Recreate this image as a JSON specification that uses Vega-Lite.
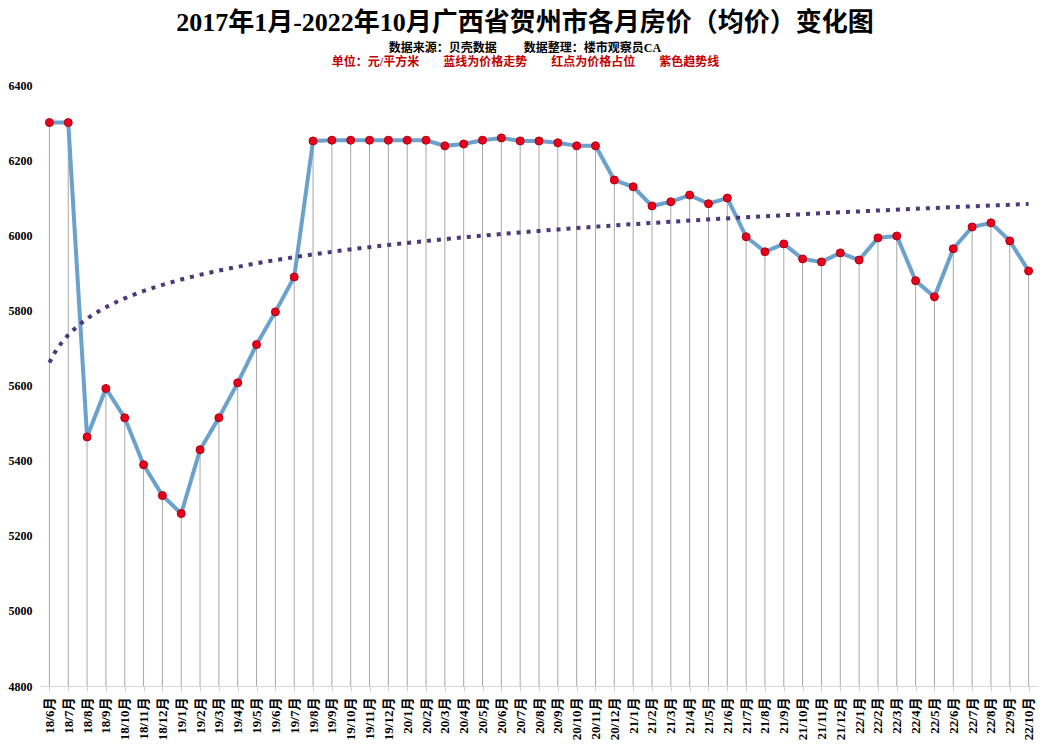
{
  "$schema": "https://vega.github.io/schema/vega-lite/v6.json",
  "width": 998,
  "height": 601,
  "padding": {"left": 8, "top": 10, "right": 8, "bottom": 5},
  "background": "white",
  "title": {
    "text": "2017年1月-2022年10月广西省贺州市各月房价（均价）变化图",
    "subtitle": "数据来源：贝壳数据　　 数据整理：楼市观察员CA",
    "font": "Liberation Serif, Noto Sans CJK SC",
    "fontSize": 26,
    "fontWeight": "bold",
    "color": "black",
    "subtitleFont": "Liberation Serif, Noto Sans CJK SC",
    "subtitleFontSize": 12,
    "subtitleFontWeight": "bold",
    "subtitleColor": "black",
    "subtitlePadding": 7,
    "anchor": "middle",
    "dx": -14,
    "offset": 1
  },
  "data": {
    "values": [
      {"i": 1, "m": "18/6月", "p": 6300},
      {"i": 2, "m": "18/7月", "p": 6300},
      {"i": 3, "m": "18/8月", "p": 5463},
      {"i": 4, "m": "18/9月", "p": 5592},
      {"i": 5, "m": "18/10月", "p": 5514},
      {"i": 6, "m": "18/11月", "p": 5389},
      {"i": 7, "m": "18/12月", "p": 5307},
      {"i": 8, "m": "19/1月", "p": 5259},
      {"i": 9, "m": "19/2月", "p": 5429},
      {"i": 10, "m": "19/3月", "p": 5514},
      {"i": 11, "m": "19/4月", "p": 5607},
      {"i": 12, "m": "19/5月", "p": 5709},
      {"i": 13, "m": "19/6月", "p": 5796},
      {"i": 14, "m": "19/7月", "p": 5889},
      {"i": 15, "m": "19/8月", "p": 6251},
      {"i": 16, "m": "19/9月", "p": 6253},
      {"i": 17, "m": "19/10月", "p": 6253},
      {"i": 18, "m": "19/11月", "p": 6253},
      {"i": 19, "m": "19/12月", "p": 6253},
      {"i": 20, "m": "20/1月", "p": 6253},
      {"i": 21, "m": "20/2月", "p": 6253},
      {"i": 22, "m": "20/3月", "p": 6238},
      {"i": 23, "m": "20/4月", "p": 6243},
      {"i": 24, "m": "20/5月", "p": 6253},
      {"i": 25, "m": "20/6月", "p": 6259},
      {"i": 26, "m": "20/7月", "p": 6251},
      {"i": 27, "m": "20/8月", "p": 6251},
      {"i": 28, "m": "20/9月", "p": 6246},
      {"i": 29, "m": "20/10月", "p": 6238},
      {"i": 30, "m": "20/11月", "p": 6238},
      {"i": 31, "m": "20/12月", "p": 6147},
      {"i": 32, "m": "21/1月", "p": 6129},
      {"i": 33, "m": "21/2月", "p": 6078},
      {"i": 34, "m": "21/3月", "p": 6089},
      {"i": 35, "m": "21/4月", "p": 6107},
      {"i": 36, "m": "21/5月", "p": 6084},
      {"i": 37, "m": "21/6月", "p": 6099},
      {"i": 38, "m": "21/7月", "p": 5996},
      {"i": 39, "m": "21/8月", "p": 5956},
      {"i": 40, "m": "21/9月", "p": 5977},
      {"i": 41, "m": "21/10月", "p": 5937},
      {"i": 42, "m": "21/11月", "p": 5929},
      {"i": 43, "m": "21/12月", "p": 5953},
      {"i": 44, "m": "22/1月", "p": 5934},
      {"i": 45, "m": "22/2月", "p": 5993},
      {"i": 46, "m": "22/3月", "p": 5998},
      {"i": 47, "m": "22/4月", "p": 5879},
      {"i": 48, "m": "22/5月", "p": 5836},
      {"i": 49, "m": "22/6月", "p": 5964},
      {"i": 50, "m": "22/7月", "p": 6022},
      {"i": 51, "m": "22/8月", "p": 6033},
      {"i": 52, "m": "22/9月", "p": 5985},
      {"i": 53, "m": "22/10月", "p": 5905}
    ]
  },
  "layer": [
    {
      "encoding": {
        "x": {"field": "m", "type": "ordinal", "sort": null,
              "scale": {"type": "point", "padding": 0.5},
              "axis": {"title": null, "labelAngle": -90, "labelFont": "Liberation Serif, Noto Sans CJK SC",
                       "labelFontSize": 13, "labelFontWeight": "bold", "labelColor": "black",
                       "labelPadding": 6, "domainColor": "#d9d9d9", "tickColor": "#d0d0d0", "tickSize": 5, "grid": false}},
        "y": {"field": "p", "type": "quantitative",
              "scale": {"domain": [4800, 6400], "nice": false, "zero": false},
              "axis": {"title": null, "format": "d", "values": [4800, 5000, 5200, 5400, 5600, 5800, 6000, 6200, 6400],
                       "grid": false, "domain": false, "ticks": false, "labelPadding": 8,
                       "labelFont": "Liberation Serif", "labelFontSize": 12, "labelFontWeight": "bold", "labelColor": "black"}}
      },
      "layer": [
        {
          "mark": {"type": "rule", "color": "#a6a6a6", "strokeWidth": 1},
          "encoding": {"y2": {"datum": 4800}}
        },
        {
          "mark": {"type": "line", "color": "#6aa2cd", "strokeWidth": 4},
          "encoding": {}
        },
        {
          "mark": {"type": "point", "filled": true, "shape": "circle", "size": 64, "color": "#e8001c", "stroke": "#b00010", "strokeWidth": 1, "opacity": 1},
          "encoding": {}
        }
      ]
    },
    {
      "transform": [{"regression": "p", "on": "i", "method": "log"}],
      "mark": {"type": "line", "color": "#4a3a7a", "strokeWidth": 4, "strokeDash": [4, 6], "strokeCap": "butt"},
      "encoding": {
        "x": {"field": "i", "type": "quantitative",
              "scale": {"domain": [0.5, 53.5], "nice": false, "zero": false},
              "axis": {"orient": "top", "labels": false, "ticks": false, "domain": false, "grid": false,
                       "title": "单位：元/平方米　　蓝线为价格走势　　红点为价格占位　　紫色趋势线",
                       "titleFont": "Liberation Serif, Noto Sans CJK SC", "titleFontSize": 12, "titleFontWeight": "bold",
                       "titleColor": "#c00000", "titlePadding": 17, "titleX": 485}},
        "y": {"field": "p", "type": "quantitative"}
      }
    }
  ],
  "resolve": {"scale": {"x": "independent"}, "axis": {"x": "independent"}},
  "config": {"view": {"stroke": null}}
}
